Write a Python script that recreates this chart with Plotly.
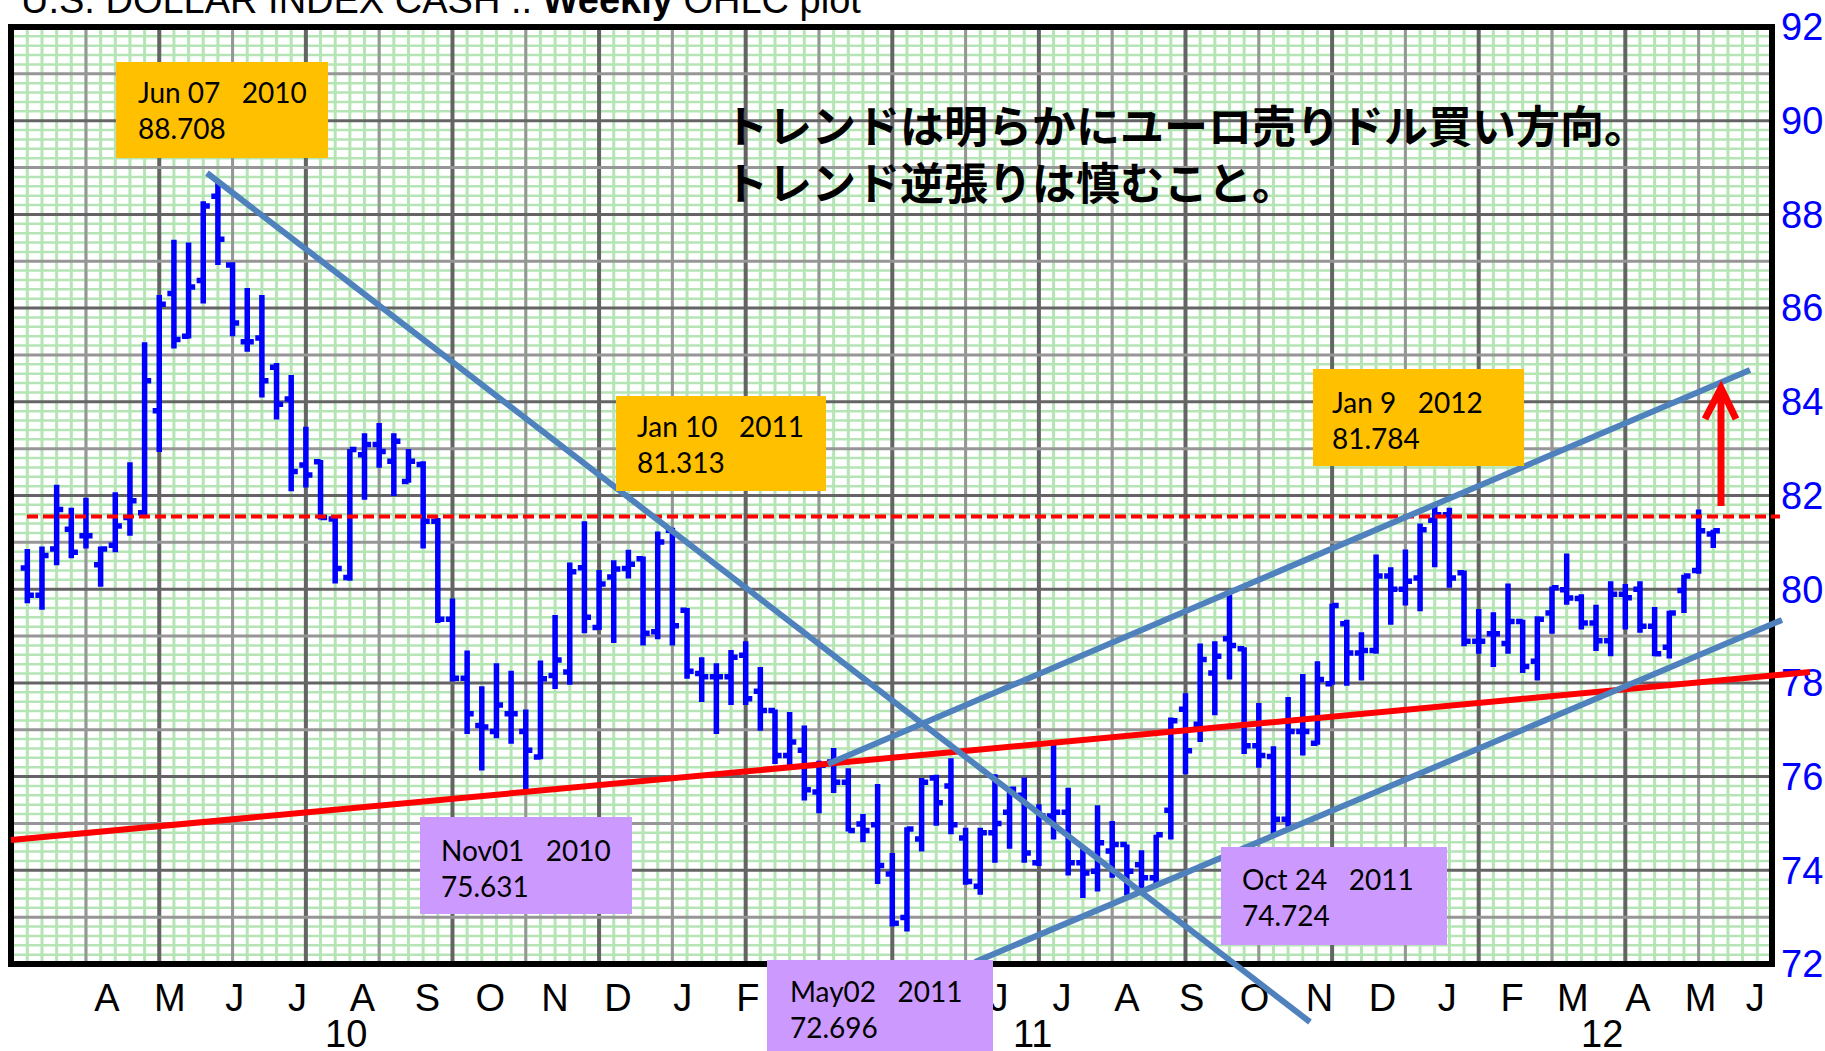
import plotly.graph_objects as go
import pandas as pd

# ---------------- data (weekly OHLC, U.S. Dollar Index cash) ----------------
opens = [80.45, 79.87, 80.86, 81.28, 81.14, 80.52, 80.94, 81.53, 81.63, 83.81,
         86.31, 85.40, 86.59, 88.39, 86.92, 85.28, 85.36, 84.74, 84.06, 82.65,
         82.72, 81.50, 80.25, 82.87, 83.09, 82.73, 82.30, 82.66, 81.45, 79.36,
         78.10, 77.09, 76.96, 77.34, 76.96, 76.42, 78.16, 78.23, 80.46, 79.18,
         80.26, 80.44, 80.65, 79.09, 81.26, 79.55, 78.20, 78.13, 78.13, 78.59,
         77.82, 77.41, 76.45, 76.56, 75.67, 76.31, 75.88, 74.99, 74.97, 73.92,
         72.99, 74.67, 75.97, 75.80, 74.69, 73.66, 74.80, 75.24, 75.60, 74.16,
         75.16, 75.24, 74.16, 73.98, 74.41, 74.55, 74.12, 73.84, 75.28, 77.44,
         77.12, 78.21, 78.94, 78.73, 76.66, 76.43, 75.09, 76.96, 76.71, 77.98,
         79.26, 78.64, 78.69, 80.28, 80.00, 80.24, 81.47, 81.59, 80.35, 78.89,
         79.05, 78.84, 79.31, 78.46, 79.49, 79.99, 79.80, 79.28, 78.90, 79.89,
         80.00, 79.21, 78.76, 79.97, 80.40, 81.18]
highs = [80.86, 80.91, 82.23, 81.74, 81.95, 80.91, 82.07, 82.71, 85.27, 86.28,
         87.46, 87.40, 88.28, 88.708, 86.98, 86.43, 86.28, 84.83, 84.57, 83.47,
         82.76, 81.52, 82.99, 83.33, 83.55, 83.33, 82.99, 82.73, 81.52, 79.80,
         78.69, 77.93, 78.42, 78.26, 77.43, 78.48, 79.45, 80.57, 81.45, 80.41,
         80.62, 80.84, 80.70, 81.23, 81.313, 79.60, 78.55, 78.42, 78.70, 78.89,
         78.34, 77.43, 77.38, 77.09, 76.34, 76.61, 76.18, 75.20, 75.84, 74.37,
         74.92, 75.97, 76.04, 76.39, 74.91, 74.91, 76.05, 75.73, 75.98, 75.41,
         76.69, 75.76, 74.48, 75.39, 75.05, 74.55, 74.43, 74.76, 77.26, 77.78,
         78.84, 78.89, 79.89, 78.76, 77.57, 76.65, 77.70, 78.19, 78.46, 79.69,
         79.35, 79.08, 80.74, 80.47, 80.85, 81.40, 81.784, 81.74, 80.40, 79.58,
         79.51, 80.12, 79.35, 79.42, 80.06, 80.76, 79.89, 79.67, 80.17, 80.11,
         80.17, 79.62, 79.54, 80.31, 81.70, 81.27]
lows = [79.70, 79.56, 80.51, 80.66, 80.87, 80.05, 80.79, 81.14, 81.56, 82.93,
        85.14, 85.35, 86.10, 86.92, 85.40, 85.07, 84.09, 83.62, 82.09, 82.17,
        81.49, 80.12, 80.18, 81.91, 82.59, 81.99, 82.27, 80.87, 79.28, 78.03,
        76.91, 76.13, 76.82, 76.70, 75.631, 76.37, 77.87, 77.96, 79.06, 79.13,
        78.85, 80.23, 78.80, 78.93, 78.80, 78.09, 77.59, 76.91, 77.53, 77.53,
        76.98, 76.27, 76.15, 75.49, 75.22, 75.65, 74.83, 74.60, 73.71, 72.80,
        72.696, 74.40, 74.95, 74.77, 73.69, 73.48, 74.16, 74.46, 74.16, 74.09,
        74.66, 73.89, 73.41, 73.55, 73.84, 73.46, 73.59, 73.69, 74.66, 76.05,
        76.74, 77.31, 78.07, 76.48, 76.19, 74.724, 74.93, 76.45, 76.68, 77.96,
        77.94, 78.05, 78.62, 79.24, 79.65, 79.53, 80.47, 80.03, 78.78, 78.62,
        78.34, 78.62, 78.21, 78.05, 79.05, 79.67, 79.14, 78.68, 78.57, 79.14,
        79.07, 78.57, 78.52, 79.49, 80.33, 80.88]
closes = [79.87, 80.72, 81.70, 80.79, 81.14, 80.86, 81.35, 81.89, 84.45, 86.08,
          85.33, 86.45, 88.18, 87.47, 85.68, 85.28, 84.45, 83.95, 82.51, 82.44,
          81.53, 80.44, 82.98, 83.09, 82.94, 83.16, 82.73, 81.45, 79.36, 78.10,
          77.34, 77.06, 77.53, 77.34, 76.56, 78.09, 78.49, 80.37, 79.40, 80.11,
          80.43, 80.53, 79.06, 81.01, 79.22, 78.25, 78.13, 78.13, 78.55, 77.66,
          77.41, 76.45, 76.74, 75.72, 76.24, 75.88, 74.85, 74.85, 74.10, 72.87,
          74.88, 75.88, 75.44, 74.97, 73.76, 74.80, 75.00, 75.73, 74.37, 75.16,
          75.24, 74.16, 73.94, 74.59, 74.55, 73.98, 73.84, 74.76, 77.19, 76.55,
          78.50, 78.57, 78.80, 76.66, 76.45, 75.09, 76.96, 76.96, 78.07, 79.65,
          78.64, 78.69, 80.28, 80.00, 80.17, 81.27, 81.59, 80.24, 78.89, 78.89,
          79.05, 79.31, 78.35, 79.36, 80.03, 79.81, 79.28, 78.90, 79.89, 79.82,
          79.21, 78.62, 79.49, 80.28, 81.25, 81.25]
first_week = "2010-03-08"
dates = pd.date_range(first_week, periods=len(opens), freq="7D")

# month initials under the axis (Mar-May 2011 sit behind the "May02 2011" callout)
month_tick_dates = ["2010-04-15", "2010-05-15", "2010-06-15", "2010-07-15", "2010-08-15",
                    "2010-09-15", "2010-10-15", "2010-11-15", "2010-12-15",
                    "2011-01-15", "2011-02-15", "2011-03-15", "2011-04-15", "2011-05-15",
                    "2011-06-15", "2011-07-15", "2011-08-15", "2011-09-15", "2011-10-15",
                    "2011-11-15", "2011-12-15",
                    "2012-01-15", "2012-02-15", "2012-03-15", "2012-04-15", "2012-05-15",
                    "2012-06-10"]
month_tick_labels = ["A", "M", "J", "J", "A", "S", "O", "N", "D",
                     "J", "F", "", "", "", "J", "J", "A", "S", "O", "N", "D",
                     "J", "F", "M", "A", "M", "J"]
year_label_dates = ["2010-08-07", "2011-07-01", "2012-03-29"]
year_labels = ["10", "11", "12"]
y_tick_values = list(range(72, 93, 2))
resistance_level = 81.55

title_text = "U.S. DOLLAR INDEX CASH .. <b>Weekly</b> OHLC plot"
comment_lines = ["トレンドは明らかにユーロ売りドル買い方向。", "トレンド逆張りは慎むこと。"]
callout_texts = ["Jun 07\u00a0\u00a0\u00a02010<br>88.708",
                 "Jan 10\u00a0\u00a0\u00a02011<br>81.313",
                 "Jan 9\u00a0\u00a0\u00a02012<br>81.784",
                 "Nov01\u00a0\u00a0\u00a02010<br>75.631",
                 "May02\u00a0\u00a0\u00a02011<br>72.696",
                 "Oct 24\u00a0\u00a0\u00a02011<br>74.724"]

# ---------------- layout geometry (pixels of the page) ----------------
W, H = 1825, 1051
L, R, T, B = 11, 1772, 27, 964
X_RANGE = ["2010-02-28 05:00", "2012-06-18 01:00"]
Y_RANGE = [72, 92]


def px(x):
    return (x - L) / (R - L)


def py(y):
    return (B - y) / (B - T)


ORANGE = "#FFC000"
PURPLE = "#CC99FF"
callout_boxes = [(116, 62, 328, 158, ORANGE), (616, 396, 826, 491, ORANGE),
                 (1313, 369, 1524, 466, ORANGE), (420, 817, 632, 914, PURPLE),
                 (767, 960, 993, 1062, PURPLE), (1221, 847, 1447, 945, PURPLE)]
callout_text_pos = [(136, 110), (635, 444), (1330, 420), (439, 868), (788, 1009), (1240, 897)]

GREEN = "rgb(181,229,181)"
GREY_L = "rgb(150,150,150)"
GREY_D = "rgb(100,100,100)"
BLUE_LINE = "#4F81BD"

shapes = []
# fine green mesh: weekly verticals, 0.2 horizontals
for d in pd.date_range("2010-03-01", "2012-06-18", freq="7D"):
    s = d.strftime("%Y-%m-%d")
    shapes.append(dict(type="line", xref="x", yref="paper", x0=s, x1=s, y0=0, y1=1,
                       layer="below", line=dict(color=GREEN, width=3)))
for i in range(1, 100):
    if i % 5 == 0:
        continue
    v = 72 + i * 0.2
    shapes.append(dict(type="line", xref="paper", yref="y", x0=0, x1=1, y0=v, y1=v,
                       layer="below", line=dict(color=GREEN, width=2.5)))
# grey grid: every 5 weeks (dark every 10), every 1 point (dark on even)
for k in range(5, 121, 5):
    d = (pd.Timestamp(first_week) + pd.Timedelta(days=7 * (k - 1))).strftime("%Y-%m-%d")
    dark = k % 10 == 0
    shapes.append(dict(type="line", xref="x", yref="paper", x0=d, x1=d, y0=0, y1=1,
                       layer="below", line=dict(color=GREY_D if dark else GREY_L,
                                                width=4 if dark else 3)))
for v in range(73, 92):
    dark = v % 2 == 0
    shapes.append(dict(type="line", xref="paper", yref="y", x0=0, x1=1, y0=v, y1=v,
                       layer="below", line=dict(color=GREY_D if dark else GREY_L, width=3)))

# frame
shapes.append(dict(type="rect", xref="paper", yref="paper", x0=0, x1=1, y0=0, y1=1,
                   layer="above", line=dict(color="black", width=6), fillcolor="rgba(0,0,0,0)"))


def seg(x0, y0, x1, y1, color, width, dash=None):
    ln = dict(color=color, width=width)
    if dash:
        ln["dash"] = dash
    return dict(type="line", xref="paper", yref="paper", x0=px(x0), y0=py(y0),
                x1=px(x1), y1=py(y1), layer="above", line=ln)


# hand-drawn trend lines
shapes.append(seg(11, 840, 1810, 672, "#FF0000", 6))
res_y = B - (resistance_level - Y_RANGE[0]) / (Y_RANGE[1] - Y_RANGE[0]) * (B - T)
shapes.append(seg(27, res_y, 1780, res_y, "#FF0000", 4, "11px,5px"))
shapes.append(seg(207, 173, 1310, 1022, BLUE_LINE, 6))
shapes.append(seg(828, 764, 1750, 370, BLUE_LINE, 6))
shapes.append(seg(975, 962, 1782, 620, BLUE_LINE, 6))
# red arrow
arrow_path = "M {a},{b} L {c},{d} L {e},{f} M {c},{g} L {c},{h}".format(
    a=px(1705), b=py(419), c=px(1721), d=py(388), e=px(1736), f=py(419),
    g=py(392), h=py(506))
shapes.append(dict(type="path", xref="paper", yref="paper", path=arrow_path,
                   layer="above", line=dict(color="#FF0000", width=7)))
# callout boxes
for (x0, y0, x1, y1, col) in callout_boxes:
    shapes.append(dict(type="rect", xref="paper", yref="paper", x0=px(x0), x1=px(x1),
                       y0=py(y1), y1=py(y0), layer="above", line=dict(width=0),
                       fillcolor=col))

annotations = []
annotations.append(dict(xref="paper", yref="paper", x=px(19), y=py(0), xanchor="left",
                        yanchor="middle", text=title_text, showarrow=False,
                        font=dict(family="Liberation Sans", size=38, color="black")))
for xs, ys in zip(year_label_dates, year_labels):
    annotations.append(dict(xref="x", yref="paper", x=xs, y=py(1034), xanchor="center",
                            yanchor="middle", text=ys, showarrow=False,
                            font=dict(family="Liberation Sans", size=38, color="black")))
annotations.append(dict(xref="paper", yref="paper", x=px(722), y=py(153), xanchor="left",
                        yanchor="middle", align="left", showarrow=False,
                        text="<br>".join("<b>" + s + "</b>" for s in comment_lines),
                        font=dict(family="Noto Sans CJK JP", size=44, color="black")))
for txt, (tx, ty) in zip(callout_texts, callout_text_pos):
    annotations.append(dict(xref="paper", yref="paper", x=px(tx), y=py(ty), xanchor="left",
                            yanchor="middle", text=txt, showarrow=False, align="left",
                            font=dict(family="Lato", size=28, color="black")))

fig = go.Figure()
fig.add_trace(go.Ohlc(x=dates, open=opens, high=highs, low=lows, close=closes,
                      increasing=dict(line=dict(color="#0000FF", width=5.5)),
                      decreasing=dict(line=dict(color="#0000FF", width=5.5)),
                      tickwidth=0.45, showlegend=False, hoverinfo="skip"))

fig.update_layout(
    width=W, height=H,
    margin=dict(l=L, r=W - R, t=T, b=H - B, pad=0, autoexpand=False),
    paper_bgcolor="white", plot_bgcolor="white",
    shapes=shapes, annotations=annotations, showlegend=False,
    xaxis=dict(type="date", range=X_RANGE, tickmode="array", tickvals=month_tick_dates,
               ticktext=month_tick_labels, showgrid=False, zeroline=False, ticks="",
               showline=False, rangeslider=dict(visible=False), ticklabelstandoff=8,
               automargin=False,
               tickfont=dict(family="Liberation Sans", size=38, color="black")),
    yaxis=dict(range=Y_RANGE, side="right", tickmode="array", tickvals=y_tick_values,
               showgrid=False, zeroline=False, ticks="", showline=False,
               ticklabelstandoff=8, automargin=False,
               tickfont=dict(family="Liberation Sans", size=38, color="#0000FF")),
)

# the page body has a default 8px margin; remove it so the figure fills the window
fig.write_html("out.html", config={"displayModeBar": False},
               post_script="document.body.style.margin='0';document.body.style.overflow='hidden';")
